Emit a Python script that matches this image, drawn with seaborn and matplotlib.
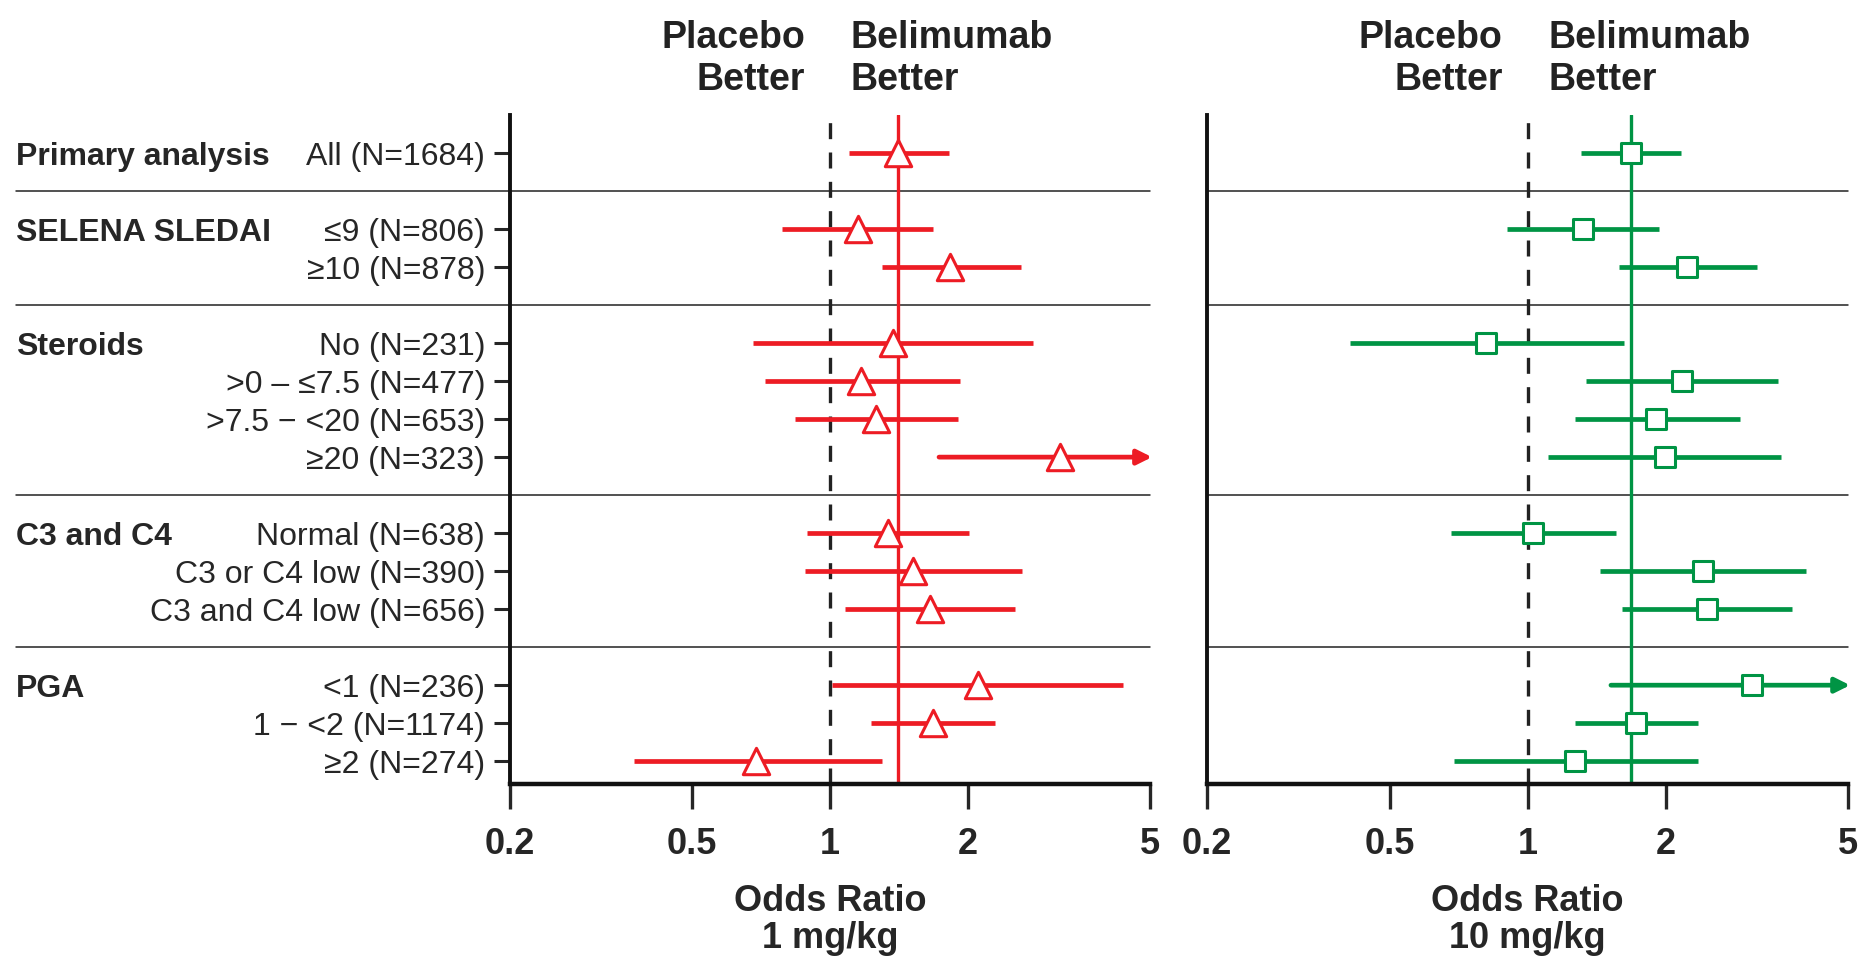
import numpy as np
import pandas as pd
import matplotlib
matplotlib.use("Agg")
import matplotlib.pyplot as plt
import seaborn as sns

sns.set_style("white")
plt.rcParams["font.family"] = ["Liberation Sans", "DejaVu Sans"]

# subgroup structure
groups = ["Primary analysis", "SELENA SLEDAI", "Steroids", "C3 and C4", "PGA"]
subgroups = [
    ["All (N=1684)"],
    ["≤9 (N=806)", "≥10 (N=878)"],
    ["No (N=231)", ">0 – ≤7.5 (N=477)", ">7.5 − <20 (N=653)", "≥20 (N=323)"],
    ["Normal (N=638)", "C3 or C4 low (N=390)", "C3 and C4 low (N=656)"],
    ["<1 (N=236)", "1 − <2 (N=1174)", "≥2 (N=274)"],
]

# odds ratios (upper CI > 5 is off the scale -> arrow)
or_1mg = [1.41, 1.15, 1.83, 1.37, 1.17, 1.26, 3.18, 1.34, 1.52, 1.65, 2.10, 1.68, 0.69]
lo_1mg = [1.10, 0.785, 1.30, 0.68, 0.72, 0.84, 1.73, 0.89, 0.88, 1.08, 1.01, 1.23, 0.373]
hi_1mg = [1.82, 1.68, 2.61, 2.77, 1.92, 1.90, 5.6, 2.01, 2.62, 2.54, 4.36, 2.29, 1.30]
overall_1mg = 1.41

or_10mg = [1.68, 1.32, 2.23, 0.81, 2.17, 1.91, 1.99, 1.03, 2.41, 2.46, 3.09, 1.72, 1.27]
lo_10mg = [1.31, 0.90, 1.58, 0.41, 1.34, 1.27, 1.11, 0.68, 1.44, 1.61, 1.52, 1.27, 0.69]
hi_10mg = [2.16, 1.93, 3.17, 1.62, 3.51, 2.91, 3.57, 1.56, 4.04, 3.77, 5.6, 2.35, 2.35]
overall_10mg = 1.68

x_ticks = [0.2, 0.5, 1, 2, 5]
x_ticklabels = ["0.2", "0.5", "1", "2", "5"]

RED = "#ED1C24"
GREEN = "#009444"

# row positions: one blank row between groups holds the separator line
rows, labels, seps, group_rows = [], [], [], []
pos = 0
for i, subs in enumerate(subgroups):
    if i > 0:
        seps.append(pos)
        pos += 1
    group_rows.append(pos)
    for s in subs:
        rows.append(pos)
        labels.append(s)
        pos += 1


def draw_panel(ax, est, lo, hi, overall, color, marker, msize, xlabel, left_labels):
    df = pd.DataFrame({"row": rows, "est": est, "lo": lo, "hi": hi})
    ax.set_xscale("log")
    xmax = x_ticks[-1]

    # separators
    x0 = -0.772 if left_labels else 0
    for s in seps:
        ax.plot([x0, 1], [s, s], transform=ax.get_yaxis_transform(),
                color="#222222", lw=1.1, clip_on=False, zorder=1)

    ax.axvline(1, color="#222222", lw=2.4, ls=(0, (4.8, 4)), zorder=2)
    ax.axvline(overall, color=color, lw=2.4, zorder=2)

    inside = df[df.hi <= xmax]
    ax.hlines(inside.row, inside.lo, inside.hi, color=color, lw=3.4, zorder=3)
    for _, r in df[df.hi > xmax].iterrows():
        ax.annotate("", xy=(xmax * 1.01, r.row), xytext=(r.lo, r.row),
                    arrowprops=dict(arrowstyle="-|>", color=color, lw=3.4,
                                    mutation_scale=22, shrinkA=0, shrinkB=0),
                    annotation_clip=False, zorder=3)

    sns.scatterplot(data=df, x="est", y="row", marker=marker, s=msize ** 2,
                    color="white", edgecolor=color, linewidth=2.2,
                    ax=ax, zorder=5, legend=False)

    ax.set_xlim(0.2, 5)
    ax.set_ylim(16.6, -1.0)
    ax.set_xticks(x_ticks)
    ax.set_xticklabels(x_ticklabels)
    ax.xaxis.set_minor_locator(matplotlib.ticker.NullLocator())
    ax.tick_params(axis="x", direction="out", length=18, width=2.4, pad=13,
                   labelsize=26, bottom=True)
    for t in ax.get_xticklabels():
        t.set_fontweight("bold")

    ax.set_xlabel(xlabel, fontsize=26, fontweight="bold", labelpad=16,
                  linespacing=1.08)
    ax.set_ylabel("")

    if left_labels:
        ax.set_yticks(rows)
        ax.set_yticklabels(labels)
        ax.tick_params(axis="y", direction="out", length=11.5, width=2.2,
                       pad=6.5, labelsize=23, left=True)
        for g, r in zip(groups, group_rows):
            ax.text(-0.772, r, g, transform=ax.get_yaxis_transform(),
                    ha="left", va="center_baseline", fontsize=23,
                    fontweight="bold")
    else:
        ax.set_yticks([])

    for side in ["top", "right"]:
        ax.spines[side].set_visible(False)
    ax.spines["left"].set_linewidth(2.8)
    ax.spines["bottom"].set_linewidth(3.2)
    ax.spines["left"].set_color("#111111")
    ax.spines["bottom"].set_color("#111111")

    ax.annotate("Placebo\nBetter", xy=(1, 1), xycoords=("data", "axes fraction"),
                xytext=(-18, 12), textcoords="offset points", ha="right",
                va="bottom", fontsize=27, fontweight="bold", linespacing=1.22,
                color="#222222")
    ax.annotate("Belimumab\nBetter", xy=(1, 1), xycoords=("data", "axes fraction"),
                xytext=(15, 12), textcoords="offset points", ha="left",
                va="bottom", fontsize=27, fontweight="bold", linespacing=1.22,
                color="#222222")


fig = plt.figure(figsize=(18.63, 9.6), dpi=100)
ax1 = fig.add_axes([0.2738, 0.1833, 0.3435, 0.6969])
ax2 = fig.add_axes([0.6479, 0.1833, 0.3441, 0.6969])

draw_panel(ax1, or_1mg, lo_1mg, hi_1mg, overall_1mg, RED, "^", 19,
           "Odds Ratio\n1 mg/kg", True)
draw_panel(ax2, or_10mg, lo_10mg, hi_10mg, overall_10mg, GREEN, "s", 15,
           "Odds Ratio\n10 mg/kg", False)

fig.savefig("out.png", dpi=100)
